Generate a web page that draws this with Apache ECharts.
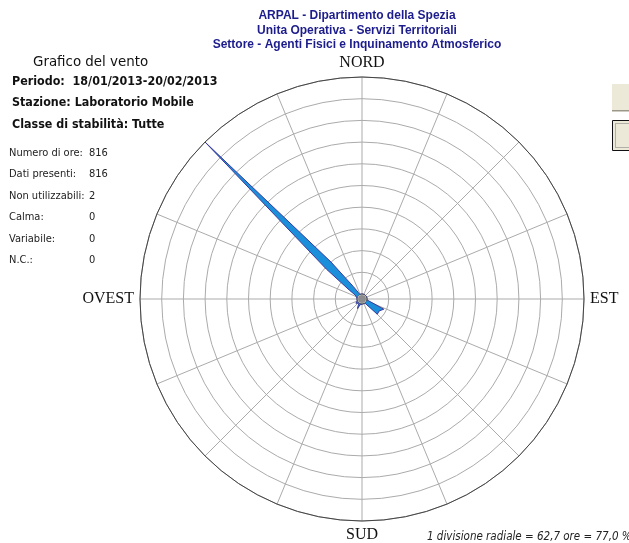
<!DOCTYPE html>
<html><head><meta charset="utf-8">
<script src="https://cdn.jsdelivr.net/npm/echarts/dist/echarts.min.js"></script>
<style>html,body{margin:0;padding:0;background:#fff;}#c{width:629px;height:543px;}</style>
</head><body><div id="c"></div>
<script>
// ---- data ----
const titleLines = ['ARPAL - Dipartimento della Spezia','Unita Operativa - Servizi Territoriali','Settore - Agenti Fisici e Inquinamento Atmosferico'];
const headerLines = ['Periodo:  18/01/2013-20/02/2013','Stazione: Laboratorio Mobile','Classe di stabilità: Tutte'];
const statLabels = ['Numero di ore:','Dati presenti:','Non utilizzabili:','Calma:','Variabile:','N.C.:'];
const statValues = ['816','816','2','0','0','0'];
const compassLabels = {0:'NORD',90:'EST',180:'SUD',270:'OVEST'};
const hoursPerDivision = 62.7;
const divisions = 10;
const footNote = '1 divisione radiale = 62,7 ore = 77,0 %';
// wind direction (degrees from north, clockwise) and hours
const directionDeg = [0,5,10,15,20,25,30,35,40,45,50,55,60,65,70,75,80,85,90,95,100,105,110,115,120,125,130,135,140,145,150,155,160,165,170,175,180,185,190,195,200,205,210,215,220,225,230,235,240,245,250,255,260,265,270,275,280,285,290,295,300,305,310,315,320,325,330,335,340,345,350,355,360];
const windHours =    [0,0,0,0,0,0,0,0,0,0,0,0,0,0,0,0,0,0,0,0,0,0,0,55,50,46,46,48,8,0,0,0,0,0,0,0,0,0,0,0,4,16,8,0,0,0,3,7,0,0,0,0,0,0,0,0,0,0,0,0,8,30,120,627,125,30,8,0,0,0,0,0,0];

const CX = 362, CY = 299, R_IN = 5, R_OUT = 222;
const SANS = '"DejaVu Sans Condensed","DejaVu Sans",sans-serif';

const chart = echarts.init(document.getElementById('c'), null, {renderer:'canvas'});
const graphics = [];
titleLines.forEach((t,i)=>graphics.push({type:'text',x:357,y:16+i*14.5,style:{text:t,font:'bold 12px "Liberation Sans", Arial, sans-serif',fill:'#1c1c8c',textAlign:'center',textVerticalAlign:'middle'}}));
graphics.push({type:'text',x:33,y:62,style:{text:'Grafico del vento',font:'14.9px '+SANS,fill:'#111',textVerticalAlign:'middle'}});
headerLines.forEach((t,i)=>graphics.push({type:'text',x:12,y:81.5+i*21.5,style:{text:t,font:'bold 12.4px '+SANS,fill:'#111',textVerticalAlign:'middle'}}));
statLabels.forEach((t,i)=>{
  graphics.push({type:'text',x:9,y:153+i*21.5,style:{text:t,font:'11px '+SANS,fill:'#222',textVerticalAlign:'middle'}});
  graphics.push({type:'text',x:89,y:153+i*21.5,style:{text:statValues[i],font:'11px '+SANS,fill:'#222',textVerticalAlign:'middle'}});
});
graphics.push({type:'text',x:427,y:537,style:{text:footNote,font:'italic 11.5px '+SANS,fill:'#222',textVerticalAlign:'middle'}});
// window buttons at right edge
graphics.push({type:'rect',shape:{x:612,y:84,width:20,height:26},style:{fill:'#ece9d8'}});
graphics.push({type:'rect',shape:{x:612,y:110,width:20,height:1.5},style:{fill:'#9c9888'}});
graphics.push({type:'rect',shape:{x:612.5,y:120.5,width:20,height:30},style:{fill:'#ece9d8',stroke:'#111',lineWidth:1}});
graphics.push({type:'rect',shape:{x:615.5,y:123.5,width:20,height:24},style:{fill:'none',stroke:'#777',lineWidth:1,lineDash:[1,1]}});
// center dot
graphics.push({type:'circle',shape:{cx:CX,cy:CY,r:4},style:{fill:'#8c8c8c'},z:100});

chart.setOption({
  animation:false,
  backgroundColor:'#fff',
  polar:{center:[CX,CY],radius:[R_IN,R_OUT]},
  angleAxis:{type:'value',min:0,max:360,interval:22.5,startAngle:90,clockwise:true,
    axisLine:{show:true,lineStyle:{color:'#444',width:1}},
    axisTick:{show:false},
    splitLine:{show:true,lineStyle:{color:'#ababab',width:1}},
    axisLabel:{show:true,margin:6,color:'#111',fontFamily:'"Liberation Serif","Times New Roman",serif',fontSize:16,
      formatter:v=>(v<360 && compassLabels[v])?compassLabels[v]:''}
  },
  radiusAxis:{type:'value',min:0,max:hoursPerDivision*divisions,interval:hoursPerDivision,
    axisLine:{show:false},axisTick:{show:false},axisLabel:{show:false},
    splitLine:{show:true,lineStyle:{color:'#ababab',width:1}}},
  series:[{type:'line',coordinateSystem:'polar',showSymbol:false,smooth:false,
    data:directionDeg.map((d,i)=>[windHours[i],d]),
    lineStyle:{color:'#3b3b9c',width:1},
    areaStyle:{color:'#1c8fda',opacity:1},z:5}],
  graphic:graphics
});
</script></body></html>
